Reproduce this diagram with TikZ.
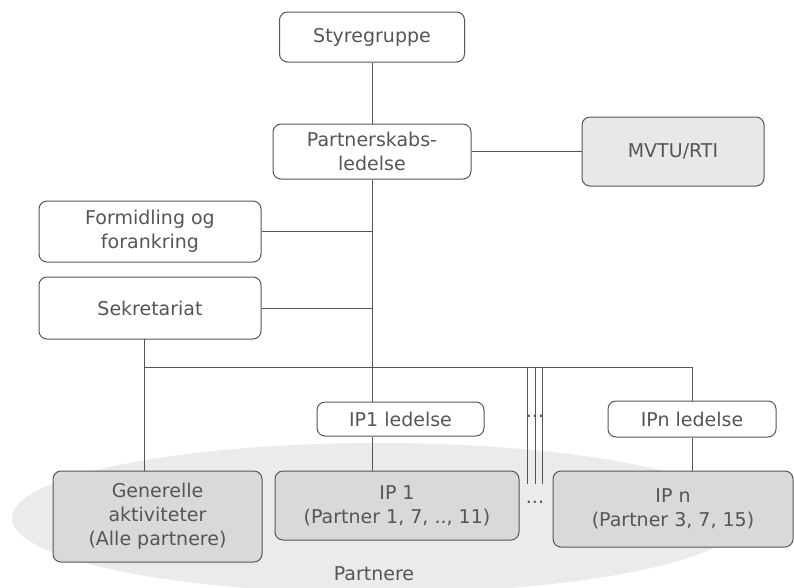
\documentclass[tikz,border=0pt]{standalone}
\usepackage{fontspec}
\setmainfont{DejaVu Sans}
\usetikzlibrary{positioning}
\definecolor{txtgray}{HTML}{555555}
\definecolor{linegray}{HTML}{555555}
\definecolor{boxgray}{HTML}{D9D9D9}
\definecolor{lightbox}{HTML}{E8E8E8}
\definecolor{cloudgray}{HTML}{EBEBEB}
\tikzset{
    unit/.style={draw=linegray, line width=1pt, rounded corners=8pt, inner sep=0pt,
        align=center, text=txtgray, font=\fontsize{19}{24}\selectfont},
    unitgray/.style={unit, fill=boxgray},
    unitlight/.style={unit, fill=lightbox},
    link/.style={draw=linegray, line width=0.9pt},
}
\begin{document}
\begin{tikzpicture}[x=1pt, y=-1pt]
	\useasboundingbox (0,0) rectangle (794,587);
	% partner area
	\fill[cloudgray] (378,518) ellipse [x radius=366, y radius=75];
	\node[text=txtgray, font=\fontsize{19}{24}\selectfont] (partnere) at (374,574) {Partnere};
	% boxes
	\node[unit, minimum width=185, minimum height=50] (styre) at (372,37) {Styregruppe};
	\node[unit, minimum width=198, minimum height=55] (ledelse) at (372,151.5) {Partnerskabs-\\ledelse};
	\node[unitlight, minimum width=182, minimum height=69] (mvtu) at (673,151.5) {MVTU/RTI};
	\node[unit, minimum width=222, minimum height=61] (formidling) at (150,231.5) {Formidling og\\forankring};
	\node[unit, minimum width=222, minimum height=62] (sekretariat) at (150,308) {Sekretariat};
	\node[unit, minimum width=167, minimum height=34] (ipled) at (400.5,419) {IP1 ledelse};
	\node[unit, minimum width=168, minimum height=36] (ipnled) at (692,419) {IPn ledelse};
	\node[unitgray, minimum width=209, minimum height=91] (generelle) at (157.5,516.5) {Generelle\\aktiviteter\\(Alle partnere)};
	\node[unitgray, minimum width=244, minimum height=69] (ip) at (397,505.5) {IP 1\\(Partner 1, 7, .., 11)};
	\node[unitgray, minimum width=240, minimum height=76] (ipn) at (673,509) {IP n\\(Partner 3, 7, 15)};
	% bus and dots
	\coordinate (sekdrop) at (144,339);
	\coordinate (busL) at (144,367);
	\coordinate (busR) at (692,367);
	\coordinate (dots) at (535,367);
	\node[text=txtgray, font=\fontsize{19}{24}\selectfont] (dotsup) at (535,416) {...};
	\node[text=txtgray, font=\fontsize{19}{24}\selectfont] (dotsdown) at (535,502) {...};
	% connectors
	\draw[link] (styre.south) -- (ledelse.north);
	\draw[link] (ledelse.east) -- (mvtu.west);
	\draw[link] (ledelse.south) -- (ledelse.south |- ipled.north);
	\draw[link] (ledelse.south |- ipled.south) -- (ledelse.south |- ip.north);
	\draw[link] (formidling.east) -- (formidling.east -| ledelse.south);
	\draw[link] (sekretariat.east) -- (sekretariat.east -| ledelse.south);
	\draw[link] (sekdrop) -- (sekdrop |- generelle.north);
	\draw[link] (busL) -- (busR) -- (ipnled.north);
	\draw[link] (ipnled.south) -- (ipnled.south |- ipn.north);
	\foreach \dx in {-8,0,7}
		\draw[link] ([xshift=\dx]dots) -- ++(0,117);
\end{tikzpicture}
\end{document}
